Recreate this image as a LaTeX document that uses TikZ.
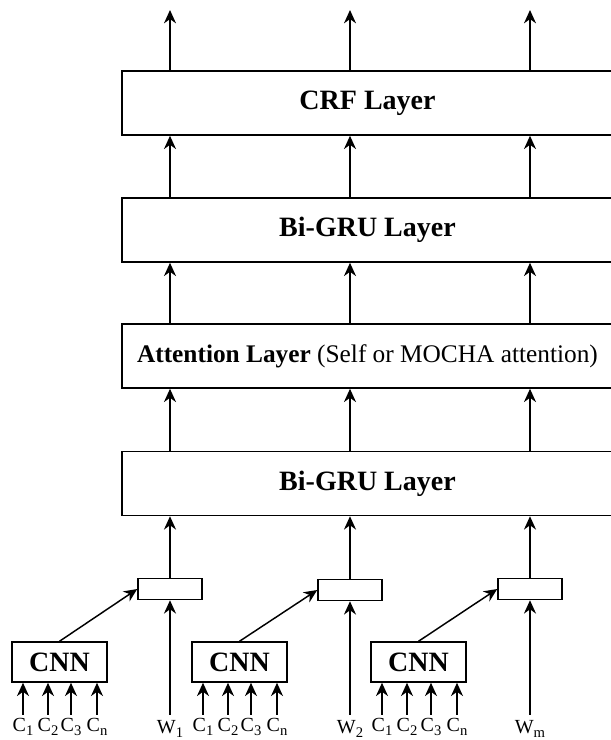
\documentclass[tikz,border=0pt]{standalone}
\usepackage{fontspec}
\setmainfont{Liberation Serif}
\usepackage{tikz}
\usetikzlibrary{positioning,arrows.meta}
\newcommand{\lowsub}[1]{\raisebox{-3pt}{\fontsize{11}{12}\selectfont #1}}
\tikzset{
    layer/.style={rectangle, draw, line width=1.1pt, minimum width=368.25pt, minimum height=48pt, align=center, font=\fontsize{21}{25}\selectfont\bfseries},
    embed/.style={rectangle, draw, line width=1.1pt, minimum width=48pt, minimum height=15.75pt},
    cnnbox/.style={rectangle, draw, line width=1.1pt, minimum width=71.25pt, minimum height=30pt, font=\fontsize{21}{25}\selectfont\bfseries},
    token/.style={anchor=base, inner sep=0pt, inner ysep=2pt, font=\fontsize{15}{17}\selectfont},
    word/.style={token, inner ysep=3.5pt},
    arrow/.style={-{Stealth[length=10pt, width=9pt, inset=3.2pt]}, line width=1.1pt}
}
\begin{document}
\begin{tikzpicture}[x=0.75pt, y=-0.75pt]
\useasboundingbox (0,0) rectangle (611,740);
\clip (0,0) rectangle (611,740);

% ── Layers ──
\node[layer] (crf) at (367.5,103) {CRF Layer};
\node[layer] (gru_top) at (367.5,230) {Bi-GRU Layer};
\node[layer, font=\fontsize{19}{23}\selectfont] (attention) at (367.5,356) {\textbf{Attention Layer} (Self or MOCHA attention)};
\node[layer] (gru_bottom) at (367.5,483.5) {Bi-GRU Layer};

% ── Word + char embeddings ──
\node[embed] (emb1) at (170,589) {};
\node[embed] (emb2) at (350,590) {};
\node[embed] (emb3) at (530,589) {};

% ── CNNs ──
\node[cnnbox] (cnn1) at (59.5,662) {CNN};
\node[cnnbox] (cnn2) at (239.5,662) {CNN};
\node[cnnbox] (cnn3) at (418.5,662) {CNN};

% ── Inputs ──
\node[token] (c1_1) at (23,731) {C\lowsub{1}};
\node[token] (c1_2) at (48,731) {C\lowsub{2}};
\node[token] (c1_3) at (71,731) {C\lowsub{3}};
\node[token] (c1_n) at (97,731) {C\lowsub{n}};
\node[word] (w1) at (170,733) {W\lowsub{1}};
\node[token] (c2_1) at (203,731) {C\lowsub{1}};
\node[token] (c2_2) at (228,731) {C\lowsub{2}};
\node[token] (c2_3) at (251,731) {C\lowsub{3}};
\node[token] (c2_n) at (277,731) {C\lowsub{n}};
\node[word] (w2) at (350,733) {W\lowsub{2}};
\node[token] (c3_1) at (382,731) {C\lowsub{1}};
\node[token] (c3_2) at (407,731) {C\lowsub{2}};
\node[token] (c3_3) at (431,731) {C\lowsub{3}};
\node[token] (c3_n) at (457,731) {C\lowsub{n}};
\node[word] (wm) at (530,733) {W\lowsub{m}};

% ── Outputs ──
\coordinate (out1) at (170,10);
\coordinate (out2) at (350,10);
\coordinate (out3) at (530,10);

% ── Characters into CNNs ──
\draw[arrow] (c1_1.north) -- (c1_1.north |- cnn1.south);
\draw[arrow] (c1_2.north) -- (c1_2.north |- cnn1.south);
\draw[arrow] (c1_3.north) -- (c1_3.north |- cnn1.south);
\draw[arrow] (c1_n.north) -- (c1_n.north |- cnn1.south);
\draw[arrow] (c2_1.north) -- (c2_1.north |- cnn2.south);
\draw[arrow] (c2_2.north) -- (c2_2.north |- cnn2.south);
\draw[arrow] (c2_3.north) -- (c2_3.north |- cnn2.south);
\draw[arrow] (c2_n.north) -- (c2_n.north |- cnn2.south);
\draw[arrow] (c3_1.north) -- (c3_1.north |- cnn3.south);
\draw[arrow] (c3_2.north) -- (c3_2.north |- cnn3.south);
\draw[arrow] (c3_3.north) -- (c3_3.north |- cnn3.south);
\draw[arrow] (c3_n.north) -- (c3_n.north |- cnn3.south);

% ── Words and CNNs into embeddings ──
\draw[arrow] (w1.north) -- (emb1.south);
\draw[arrow] (w2.north) -- (emb2.south);
\draw[arrow] (wm.north) -- (emb3.south);
\draw[arrow] (cnn1.north) -- (emb1.west);
\draw[arrow] (cnn2.north) -- (emb2.west);
\draw[arrow] (cnn3.north) -- (emb3.west);

% ── Through the layers ──
\draw[arrow] (emb1.north) -- (emb1.north |- gru_bottom.south);
\draw[arrow] (emb2.north) -- (emb2.north |- gru_bottom.south);
\draw[arrow] (emb3.north) -- (emb3.north |- gru_bottom.south);
\draw[arrow] (gru_bottom.north -| out1) -- (attention.south -| out1);
\draw[arrow] (gru_bottom.north -| out2) -- (attention.south -| out2);
\draw[arrow] (gru_bottom.north -| out3) -- (attention.south -| out3);
\draw[arrow] (attention.north -| out1) -- (gru_top.south -| out1);
\draw[arrow] (attention.north -| out2) -- (gru_top.south -| out2);
\draw[arrow] (attention.north -| out3) -- (gru_top.south -| out3);
\draw[arrow] (gru_top.north -| out1) -- (crf.south -| out1);
\draw[arrow] (gru_top.north -| out2) -- (crf.south -| out2);
\draw[arrow] (gru_top.north -| out3) -- (crf.south -| out3);
\draw[arrow] (crf.north -| out1) -- (out1);
\draw[arrow] (crf.north -| out2) -- (out2);
\draw[arrow] (crf.north -| out3) -- (out3);

\end{tikzpicture}
\end{document}
